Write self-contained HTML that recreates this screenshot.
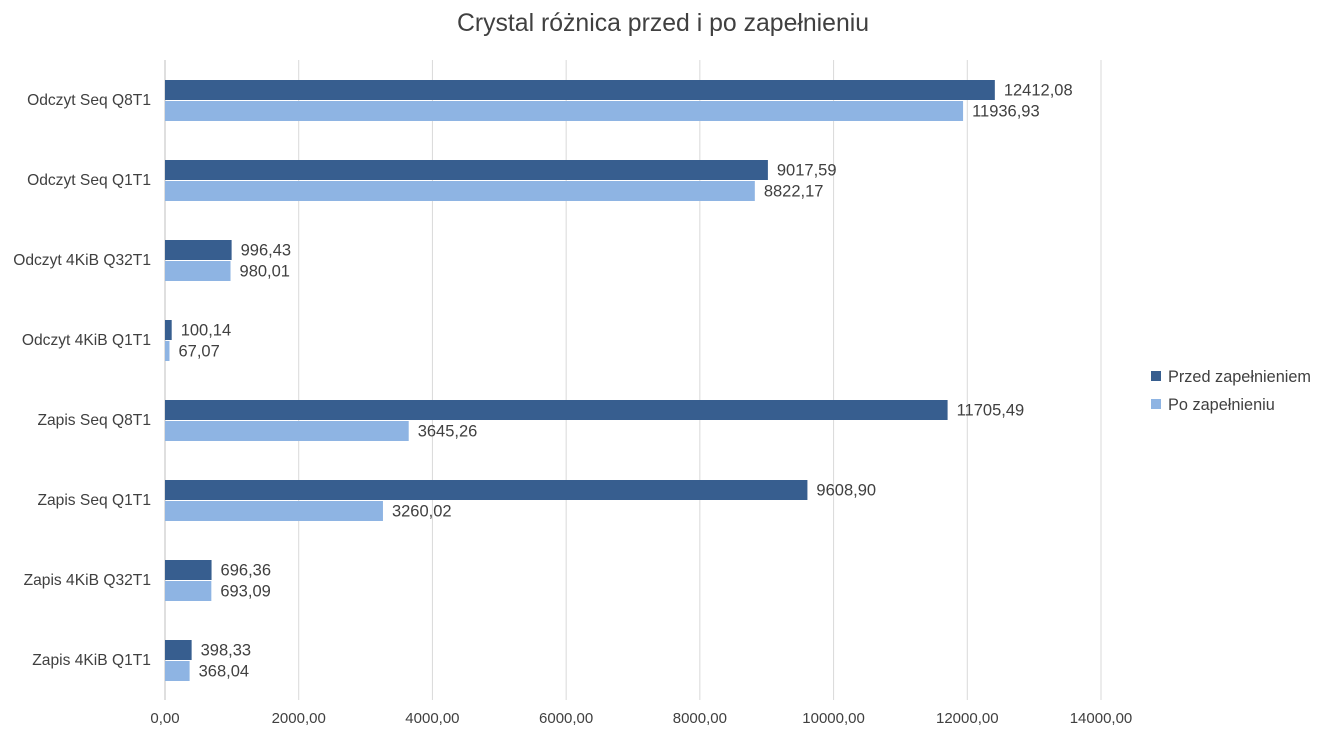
<!DOCTYPE html>
<html><head><meta charset="utf-8"><style>
body{margin:0;background:#fff;font-family:"Liberation Sans","DejaVu Sans",sans-serif;}
svg text{fill:#404040;}
</style></head><body>
<svg id="chart" width="1325" height="749">
<text x="663" y="31" text-anchor="middle" font-size="24.8">Crystal różnica przed i po zapełnieniu</text>
<g id="grid"></g><g id="bars"></g><g id="labels"></g>
<g>
<rect x="1151" y="371" width="10" height="10" fill="#375E8F"/>
<text x="1168" y="382" font-size="16.3">Przed zapełnieniem</text>
<rect x="1151" y="399" width="10" height="10" fill="#8EB4E3"/>
<text x="1168" y="410" font-size="16.3">Po zapełnieniu</text>
</g>
</svg>
<script>
const categories=["Odczyt Seq Q8T1","Odczyt Seq Q1T1","Odczyt 4KiB Q32T1","Odczyt 4KiB Q1T1","Zapis Seq Q8T1","Zapis Seq Q1T1","Zapis 4KiB Q32T1","Zapis 4KiB Q1T1"];
const przed=[12412.08,9017.59,996.43,100.14,11705.49,9608.90,696.36,398.33];
const po=[11936.93,8822.17,980.01,67.07,3645.26,3260.02,693.09,368.04];
const ticks=[0,2000,4000,6000,8000,10000,12000,14000];
const NS="http://www.w3.org/2000/svg";
const x0=165,x1=1101,y0=60,y1=700,maxV=14000;
const xs=v=>x0+(v/maxV)*(x1-x0);
const band=(y1-y0)/categories.length;
const fmt=v=>v.toFixed(2).replace('.',',');
function mk(tag,attrs,parent){const e=document.createElementNS(NS,tag);for(const k in attrs)e.setAttribute(k,attrs[k]);parent.appendChild(e);return e;}
const grid=document.getElementById('grid'),bars=document.getElementById('bars'),labels=document.getElementById('labels');
ticks.forEach(t=>{
 const l=mk('line',{x1:xs(t),x2:xs(t),y1:y0,y2:y1,stroke:t===0?'#bfbfbf':'#d9d9d9','stroke-width':1},grid);
 
 
 const tx=mk('text',{x:xs(t),y:723,'text-anchor':'middle','font-size':15},labels);
 tx.textContent=fmt(t);
 
 
});
categories.forEach((c,i)=>{
 const cy=y0+band*i+band/2;
 const ct=mk('text',{x:151,y:cy+5,'text-anchor':'end','font-size':15.6},labels);
 ct.textContent=c;
 
 
 [[przed[i],'#375E8F',cy-20],[po[i],'#8EB4E3',cy+1]].forEach(([v,col,y],j)=>{
  const r=mk('rect',{x:x0,y:y,width:xs(v)-x0,height:20,fill:col},bars);
  
  
  const vt=mk('text',{x:xs(v)+9,y:y+15.5,'font-size':16.5},labels);
  vt.textContent=fmt(v);
  
  
 });
});
</script>
</body></html>
